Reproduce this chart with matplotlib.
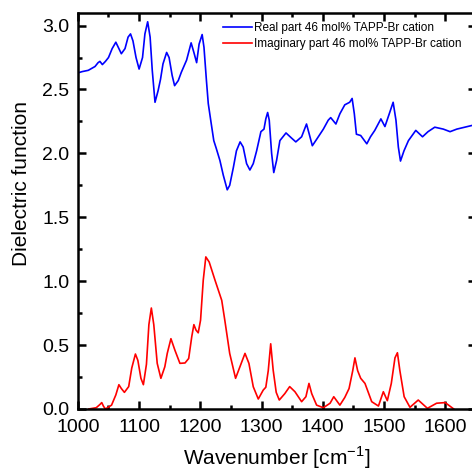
import numpy as np
import matplotlib
matplotlib.use('Agg')
import matplotlib.pyplot as plt
from matplotlib.ticker import MultipleLocator, FormatStrFormatter

plt.rcParams['font.family'] = ['Liberation Sans', 'DejaVu Sans']

# real part
wn_real = [1000, 1007, 1017, 1028, 1033, 1036, 1040, 1045, 1050, 1056, 1062,
           1066, 1071, 1077, 1082, 1086, 1090, 1095, 1100, 1105.6, 1109.5, 1114,
           1118, 1121.5, 1126, 1131, 1135, 1139, 1145, 1149, 1154, 1158, 1164,
           1169, 1177.6, 1185, 1189.5, 1194, 1198, 1203, 1206, 1210, 1213, 1217,
           1222, 1226, 1232, 1237.5, 1244, 1248, 1254, 1259, 1265, 1270, 1275.6,
           1281, 1286.5, 1292, 1299, 1304, 1307, 1310, 1312.6, 1316.5, 1320,
           1324.6, 1330, 1340, 1349, 1356, 1365.5, 1373.5, 1378, 1383, 1390,
           1401, 1409, 1413, 1421.5, 1428, 1436, 1444, 1448, 1451.6, 1455, 1462,
           1472, 1478, 1485, 1495, 1501.6, 1508.7, 1515, 1519.6, 1523.5, 1527,
           1532.7, 1540, 1552, 1563, 1572, 1583, 1597, 1608, 1619, 1645]
eps_real = [2.63, 2.64, 2.65, 2.68, 2.71, 2.72, 2.695, 2.72, 2.75, 2.82, 2.87,
            2.83, 2.78, 2.82, 2.91, 2.935, 2.88, 2.75, 2.66, 2.75, 2.935, 3.03,
            2.91, 2.65, 2.40, 2.49, 2.58, 2.70, 2.79, 2.75, 2.61, 2.53, 2.57,
            2.635, 2.73, 2.865, 2.79, 2.71, 2.855, 2.93, 2.83, 2.57, 2.39, 2.26,
            2.10, 2.04, 1.945, 1.83, 1.715, 1.75, 1.89, 2.02, 2.09, 2.05, 1.92,
            1.87, 1.92, 2.02, 2.17, 2.19, 2.27, 2.32, 2.26, 2.00, 1.85,
            1.945, 2.10, 2.16, 2.12, 2.09, 2.13, 2.23, 2.15, 2.06, 2.11,
            2.19, 2.26, 2.28, 2.23, 2.31, 2.38, 2.40, 2.43, 2.31, 2.15, 2.14,
            2.075, 2.13, 2.18, 2.27, 2.21, 2.31, 2.40, 2.26, 2.05, 1.94,
            2.02, 2.10, 2.18, 2.13, 2.17, 2.205, 2.19, 2.17, 2.19, 2.22]

# imaginary part
wn_imag = [1018, 1030, 1036, 1039, 1042, 1045, 1055, 1062, 1067, 1071, 1076,
           1083, 1088, 1094, 1098, 1103, 1107, 1112, 1116, 1120, 1124, 1129.6,
           1135.6, 1142, 1146, 1152, 1158.5, 1166.7, 1175, 1181, 1186, 1189.5,
           1193, 1196.6, 1200.4, 1204.8, 1209, 1214.5, 1224, 1235, 1240, 1248,
           1257.6, 1264.7, 1273, 1279.4, 1286.5, 1294.7, 1302.8, 1307, 1311,
           1315, 1319, 1324, 1329, 1338, 1346, 1354.6, 1365.5, 1372.5, 1377.5,
           1382, 1390, 1401, 1412, 1418, 1428, 1436, 1443, 1449, 1452.6, 1457,
           1462, 1469, 1480, 1491, 1499, 1505.5, 1512, 1518, 1522, 1526, 1533,
           1542.5, 1556, 1571, 1586, 1600, 1614]
eps_imag = [0.0, 0.01, 0.035, 0.05, 0.02, 0.0, 0.03, 0.11, 0.19, 0.16, 0.13,
            0.175, 0.32, 0.43, 0.38, 0.24, 0.19, 0.35, 0.66, 0.79, 0.66, 0.357,
            0.24, 0.33, 0.435, 0.55, 0.46, 0.357, 0.36, 0.395, 0.565, 0.66,
            0.617, 0.596, 0.695, 1.008, 1.19, 1.15, 1.008, 0.85, 0.695, 0.435,
            0.24, 0.33, 0.435, 0.357, 0.174, 0.078, 0.148, 0.17, 0.30,
            0.51, 0.305, 0.13, 0.07, 0.12, 0.175, 0.135, 0.057, 0.096, 0.20,
            0.12, 0.03, 0.01, 0.045, 0.096, 0.03, 0.09, 0.16, 0.30, 0.40, 0.30,
            0.24, 0.20, 0.057, 0.023, 0.135, 0.065, 0.20, 0.40, 0.44, 0.30, 0.096,
            0.013, 0.07, 0.005, 0.045, 0.05, 0.0]

fig = plt.figure(figsize=(4.72, 4.75), dpi=100)
ax = fig.add_axes([0.165, 0.139, 0.843, 0.834])

ax.plot(wn_real, eps_real, color='#0000ff', lw=1.2,
        label='Real part 46 mol% TAPP-Br cation')
ax.plot(wn_imag, eps_imag, color='#ff0000', lw=1.2,
        label='Imaginary part 46 mol% TAPP-Br cation')

ax.set_xlim(1000, 1650)
ax.set_ylim(0, 3.1)
ax.xaxis.set_major_locator(MultipleLocator(100))
ax.xaxis.set_minor_locator(MultipleLocator(50))
ax.yaxis.set_major_locator(MultipleLocator(0.5))
ax.yaxis.set_minor_locator(MultipleLocator(0.25))
ax.yaxis.set_major_formatter(FormatStrFormatter('%.1f'))

ax.tick_params(which='both', direction='in', top=True, right=True,
               labelsize=14, width=1.8)
ax.tick_params(axis='x', which='both', pad=7)
ax.tick_params(axis='y', which='both', pad=6)
ax.tick_params(which='major', length=5.5)
ax.tick_params(which='minor', length=3)
for s in ax.spines.values():
    s.set_linewidth(1.8)

ax.set_xlabel(r'Wavenumber [cm$^{\mathregular{-1}}$]', fontsize=15, labelpad=6)
fig.text(22 / 472, 1 - 183 / 475, 'Dielectric function', fontsize=15,
         rotation=90, ha='center', va='center')

ax.legend(loc='upper left', bbox_to_anchor=(0.34, 1.0), frameon=False,
          fontsize=8.5, handlelength=2.5, handletextpad=0.2,
          labelspacing=0.3, borderaxespad=0.4)

fig.savefig('out.png', dpi=100)
